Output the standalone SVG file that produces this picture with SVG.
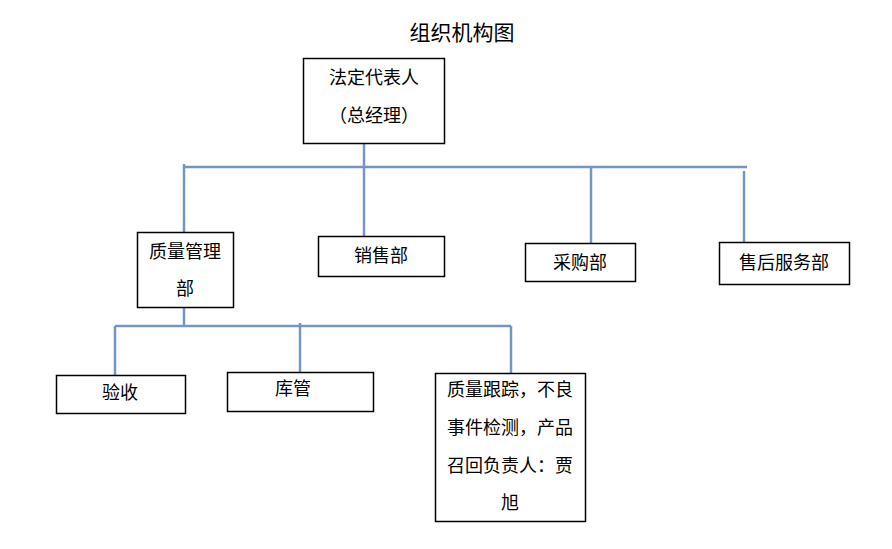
<svg xmlns="http://www.w3.org/2000/svg" width="892" height="549" viewBox="0 0 892 549">
<style>
.box{fill:#fff;stroke:#000;stroke-width:1.5}
.ln{stroke:#7397C2;stroke-width:2.5;fill:none}
text{font-family:"Noto Sans CJK SC","Noto Sans CJK JP",sans-serif;font-size:18px;fill:#000;text-anchor:middle}
.title{font-size:21px}
</style>
<rect width="892" height="549" fill="#fff"/>
<text class="title" x="462" y="40">组织机构图</text>
<g id="connectors">
<line class="ln" x1="364" y1="143" x2="364" y2="236"/>
<line class="ln" x1="184" y1="167" x2="747" y2="167"/>
<line class="ln" x1="184" y1="164" x2="184" y2="232"/>
<line class="ln" x1="591" y1="166" x2="591" y2="243"/>
<line class="ln" x1="744" y1="171" x2="744" y2="242"/>
<line class="ln" x1="184" y1="307" x2="184" y2="326"/>
<line class="ln" x1="115" y1="326" x2="511" y2="326"/>
<line class="ln" x1="115" y1="326" x2="115" y2="375"/>
<line class="ln" x1="300" y1="323" x2="300" y2="373"/>
<line class="ln" x1="511" y1="326" x2="511" y2="374"/>
</g>
<g id="ceo">
<rect class="box" x="303.5" y="58.5" width="141" height="85"/>
<text x="374" y="84">法定代表人</text>
<text x="374" y="122">（总经理）</text>
</g>
<g id="quality">
<rect class="box" x="137.5" y="232.5" width="96" height="75"/>
<text x="185" y="258">质量管理</text>
<text x="185" y="295">部</text>
</g>
<g id="sales">
<rect class="box" x="318.5" y="236.5" width="126" height="40"/>
<text x="381" y="262">销售部</text>
</g>
<g id="purchase">
<rect class="box" x="525.5" y="243.5" width="110" height="38"/>
<text x="580" y="269">采购部</text>
</g>
<g id="aftersales">
<rect class="box" x="719.5" y="242.5" width="130" height="42"/>
<text x="784" y="269">售后服务部</text>
</g>
<g id="inspection">
<rect class="box" x="56.5" y="375.5" width="129" height="38"/>
<text x="120" y="399">验收</text>
</g>
<g id="warehouse">
<rect class="box" x="227.5" y="372.5" width="146" height="39"/>
<text x="293" y="395">库管</text>
</g>
<g id="tracking">
<rect class="box" x="435.5" y="373.5" width="150" height="148"/>
<text x="510" y="396">质量跟踪，不良</text>
<text x="510" y="434">事件检测，产品</text>
<text x="510" y="472">召回负责人：贾</text>
<text x="510" y="509">旭</text>
</g>
</svg>
